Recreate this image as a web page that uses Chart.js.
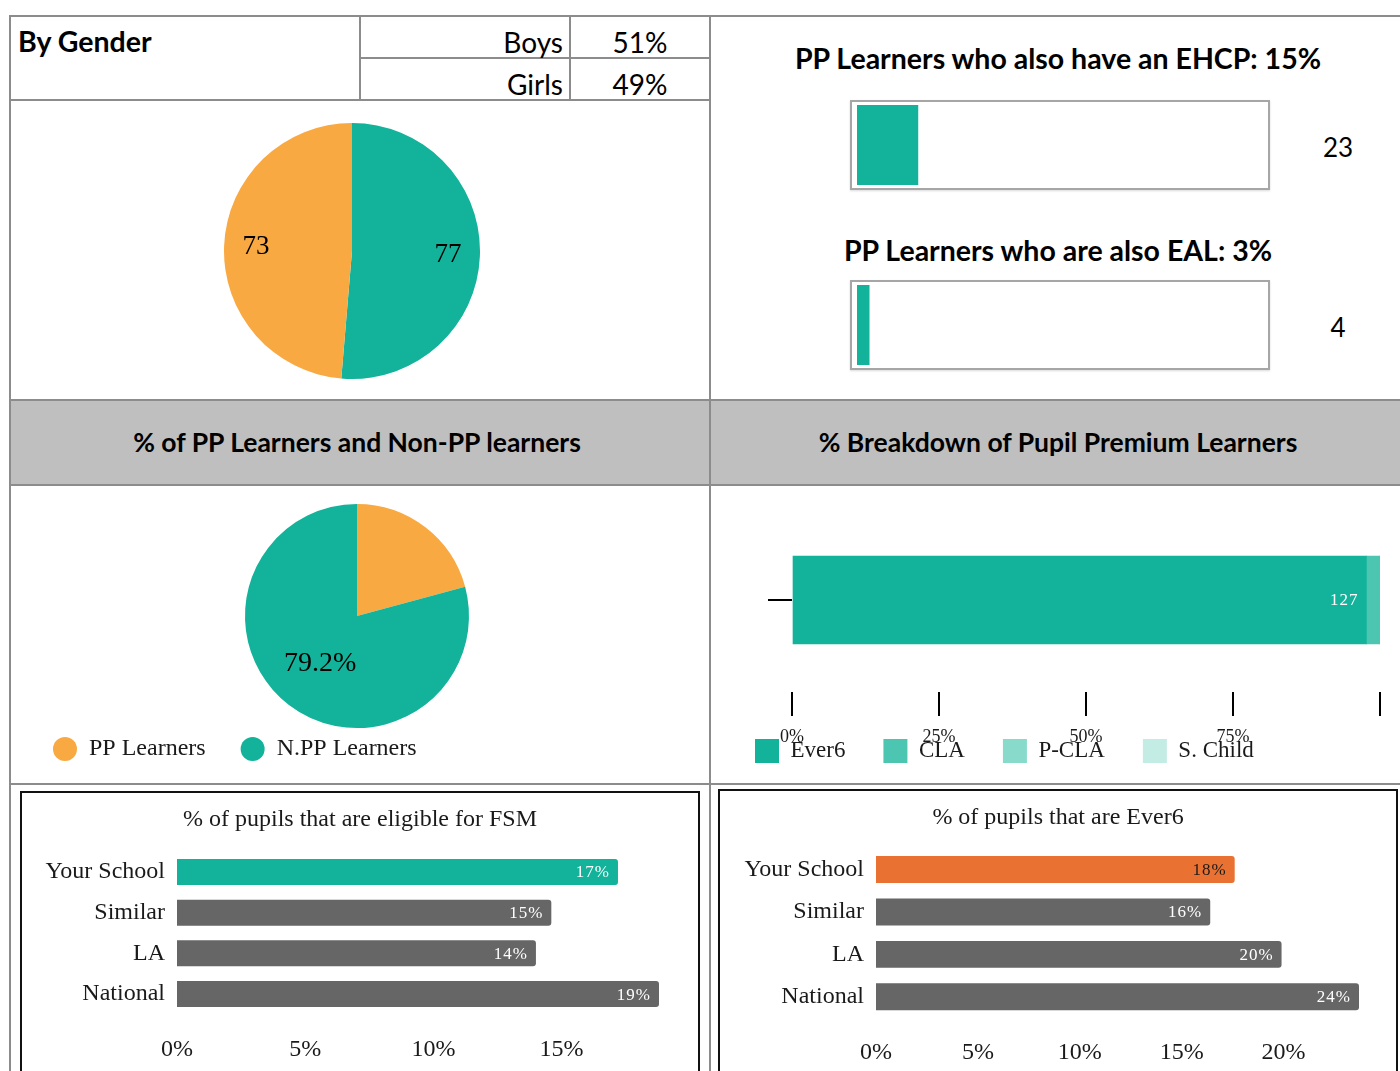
<!DOCTYPE html>
<html>
<head>
<meta charset="utf-8">
<script src="https://cdn.jsdelivr.net/npm/chart.js@4.4.0/dist/chart.umd.min.js"></script>
<style>
  body { margin: 0; width: 1400px; height: 1071px; overflow: hidden; background: #fff; position: relative; font-family: Lato, sans-serif; color: #000; }
  .ln { position: absolute; background: #8c8c8c; }
  .t { position: absolute; white-space: nowrap; transform: translate(-50%, -50%); }
  .r { position: absolute; white-space: nowrap; transform: translate(-100%, -50%); }
  .b { font-weight: bold; font-size: 28.5px; }
  .h { font-weight: bold; font-size: 26.5px; }
  .n { font-size: 28px; }
  .v { font-size: 26px; }
  canvas { position: absolute; }
  .box { position: absolute; border: 2px solid #111; box-sizing: border-box; }
  .meter { position: absolute; border: 2px solid #a6a6a6; box-sizing: border-box; box-shadow: 0 1px 2px rgba(0,0,0,.15); }
  .band { position: absolute; left: 9px; top: 399px; width: 1391px; height: 87px; background: #bfbfbf; border-top: 2px solid #8c8c8c; border-bottom: 2px solid #8c8c8c; box-sizing: border-box; }
</style>
</head>
<body>
<div class="band"></div>
<div class="ln" style="left:9px;top:15px;width:1391px;height:2px"></div>
<div class="ln" style="left:9px;top:15px;width:2px;height:1056px"></div>
<div class="ln" style="left:709px;top:15px;width:2px;height:1056px"></div>
<div class="ln" style="left:9px;top:99px;width:702px;height:2px"></div>
<div class="ln" style="left:359px;top:15px;width:2px;height:85px"></div>
<div class="ln" style="left:569px;top:15px;width:2px;height:85px"></div>
<div class="ln" style="left:359px;top:57px;width:352px;height:2px"></div>
<div class="ln" style="left:9px;top:783px;width:1391px;height:2px"></div>

<div class="b" style="position:absolute;left:18px;top:24px">By Gender</div>
<div id="g0" class="r n" style="left:563px;top:42px"></div>
<div id="p0" class="t n" style="left:640px;top:42px"></div>
<div id="g1" class="r n" style="left:563px;top:84px"></div>
<div id="p1" class="t n" style="left:640px;top:84px"></div>

<div id="f0" class="t b" style="left:1058px;top:58px"></div>
<div id="f1" class="t b" style="left:1058px;top:250px"></div>
<div id="c0" class="t v" style="left:1338px;top:147px"></div>
<div id="c1" class="t v" style="left:1338px;top:327px"></div>
<div class="meter" style="left:850px;top:100px;width:420px;height:90px"></div>
<div class="meter" style="left:850px;top:280px;width:420px;height:90px"></div>
<canvas id="meter0" width="406" height="80" style="left:857px;top:105px"></canvas>
<canvas id="meter1" width="406" height="80" style="left:857px;top:285px"></canvas>

<div class="t h" style="left:357px;top:442px">% of PP Learners and Non-PP learners</div>
<div class="t h" style="left:1058px;top:442px">% Breakdown of Pupil Premium Learners</div>

<canvas id="gender" width="256" height="256" style="left:224px;top:123px"></canvas>
<canvas id="pp" width="698" height="298" style="left:10px;top:486px"></canvas>
<canvas id="breakdown" width="688" height="298" style="left:712px;top:486px"></canvas>

<div class="box" style="left:20px;top:791px;width:680px;height:300px"></div>
<div class="box" style="left:718px;top:789px;width:680px;height:300px"></div>
<canvas id="fsm" width="676" height="278" style="left:22px;top:793px"></canvas>
<canvas id="ever6" width="676" height="280" style="left:720px;top:791px"></canvas>

<script>
const genderLabels = ['Boys', 'Girls'];
const genderCounts = [77, 73];

const flagTitles = ['PP Learners who also have an EHCP', 'PP Learners who are also EAL'];
const flagPercents = [15, 3];
const flagCounts = [23, 4];

const ppLabels = ['PP Learners', 'N.PP Learners'];
const ppCounts = [150, 571];

const breakdownLabels = ['Ever6', 'CLA', 'P-CLA', 'S. Child'];
const breakdownCounts = [127, 3, 0, 0];

const compareLabels = ['Your School', 'Similar', 'LA', 'National'];
const fsmValues = [17.2, 14.6, 14.0, 18.8];
const ever6Values = [17.6, 16.4, 19.9, 23.7];

const teal = '#12B39A';
const orange = '#F9A942';
const grey = '#666666';

Chart.defaults.font.family = "'Liberation Serif', serif";
Chart.defaults.color = '#1a1a1a';
Chart.defaults.animation = false;
Chart.defaults.responsive = false;
Chart.defaults.plugins.tooltip.enabled = false;

// table + text cells
const genderTotal = genderCounts.reduce((a, b) => a + b, 0);
genderLabels.forEach((g, i) => {
  document.getElementById('g' + i).textContent = g;
  document.getElementById('p' + i).textContent = Math.round(genderCounts[i] / genderTotal * 100) + '%';
});
flagTitles.forEach((t, i) => {
  document.getElementById('f' + i).textContent = t + ': ' + flagPercents[i] + '%';
  document.getElementById('c' + i).textContent = flagCounts[i];
});

const sliceLabels = (cfg) => ({
  id: 'sliceLabels',
  afterDatasetsDraw(chart) {
    const ctx = chart.ctx;
    const data = chart.data.datasets[0].data;
    const total = data.reduce((a, b) => a + b, 0);
    ctx.save();
    ctx.font = cfg.font;
    ctx.fillStyle = '#000';
    ctx.textAlign = 'center';
    ctx.textBaseline = 'middle';
    chart.getDatasetMeta(0).data.forEach((arc, i) => {
      const text = cfg.text(data[i], total, i);
      if (!text) return;
      const mid = (arc.startAngle + arc.endAngle) / 2;
      const r = arc.outerRadius * cfg.at;
      ctx.fillText(text, arc.x + Math.cos(mid) * r, arc.y + Math.sin(mid) * r);
    });
    ctx.restore();
  }
});

const barLabels = (cfg) => ({
  id: 'barLabels',
  afterDatasetsDraw(chart) {
    const ctx = chart.ctx;
    ctx.save();
    ctx.font = cfg.font;
    ctx.letterSpacing = '1px';
    ctx.textAlign = 'right';
    ctx.textBaseline = 'middle';
    chart.data.datasets.forEach((ds, d) => {
      chart.getDatasetMeta(d).data.forEach((bar, i) => {
        if (Math.abs(bar.x - bar.base) < 30) return;
        ctx.fillStyle = cfg.color(d, i);
        ctx.fillText(cfg.text(ds.data[i], d, i), bar.x - cfg.pad, bar.y + 1);
      });
    });
    ctx.restore();
  }
});

// x tick labels that hang below the tick marks, over the legend
const hangingTicks = (cfg) => ({
  id: 'hangingTicks',
  afterDraw(chart) {
    const s = chart.scales.x;
    const ctx = chart.ctx;
    ctx.save();
    ctx.font = cfg.font;
    ctx.fillStyle = '#1a1a1a';
    ctx.textAlign = 'center';
    ctx.textBaseline = 'top';
    s.ticks.forEach((t) => {
      const text = cfg.text(t.value);
      if (text) ctx.fillText(text, s.getPixelForValue(t.value), s.top + cfg.offset);
    });
    ctx.restore();
  }
});

// title centred on the whole canvas, not on the padded layout box
const canvasTitle = (cfg) => ({
  id: 'canvasTitle',
  afterDraw(chart) {
    const ctx = chart.ctx;
    ctx.save();
    ctx.font = cfg.font;
    ctx.fillStyle = '#1a1a1a';
    ctx.textAlign = 'center';
    ctx.textBaseline = 'middle';
    ctx.fillText(cfg.text, chart.width / 2, cfg.y);
    ctx.restore();
  }
});

new Chart(document.getElementById('gender'), {
  type: 'pie',
  data: {
    labels: genderLabels,
    datasets: [{ data: genderCounts, backgroundColor: [teal, orange], borderWidth: 0 }]
  },
  options: { plugins: { legend: { display: false } } },
  plugins: [sliceLabels({ font: "27px 'Liberation Serif'", at: 0.75, text: (v) => String(v) })]
});

new Chart(document.getElementById('pp'), {
  type: 'pie',
  data: {
    labels: ppLabels,
    datasets: [{ data: ppCounts, backgroundColor: [orange, teal], borderWidth: 0, radius: 112 }]
  },
  options: {
    layout: { padding: { left: 8, right: 12, top: 44, bottom: 13 } },
    plugins: {
      legend: {
        position: 'bottom', align: 'start',
        labels: { usePointStyle: true, pointStyle: 'circle', pointStyleWidth: 24, boxHeight: 17, padding: 35, font: { size: 24 }, color: '#1a1a1a' }
      }
    }
  },
  plugins: [sliceLabels({ font: "28px 'Liberation Serif'", at: 0.54, text: (v, total, i) => i === 1 ? (v / total * 100).toFixed(1) + '%' : '' })]
});

const breakdownTotal = breakdownCounts.reduce((a, b) => a + b, 0);
const breakdownColors = [teal, '#4CC6B1', '#88DACB', '#C3ECE5'];
new Chart(document.getElementById('breakdown'), {
  type: 'bar',
  data: {
    labels: [''],
    datasets: breakdownLabels.map((lab, i) => ({
      label: lab,
      data: [breakdownCounts[i] / breakdownTotal * 100],
      backgroundColor: breakdownColors[i],
      barThickness: 88
    }))
  },
  options: {
    indexAxis: 'y',
    layout: { padding: { left: 5, right: 20, top: 22, bottom: 11 } },
    plugins: {
      legend: {
        position: 'bottom', align: 'start',
        labels: { boxWidth: 24, boxHeight: 24, padding: 38, font: { size: 23 }, color: '#1a1a1a' }
      }
    },
    scales: {
      x: {
        stacked: true, min: 0, max: 100,
        border: { display: false },
        grid: { drawOnChartArea: false, tickLength: 24, color: '#000', lineWidth: 2 },
        ticks: { stepSize: 25, display: false },
        afterFit: (s) => { s.height = 9; }
      },
      y: {
        stacked: true,
        border: { display: false },
        grid: { drawOnChartArea: false, offset: false, tickLength: 24, color: '#000', lineWidth: 2 },
        ticks: { display: false },
        afterFit: (s) => { s.width = 75; }
      }
    }
  },
  plugins: [
    barLabels({ font: "17px 'Liberation Serif'", pad: 8, color: () => '#fff', text: (v, d) => String(breakdownCounts[d]) }),
    hangingTicks({ font: "18px 'Liberation Serif'", offset: 36, text: (v) => v < 100 ? v + '%' : '' })
  ]
});

function meterChart(id, pct) {
  new Chart(document.getElementById(id), {
    type: 'bar',
    data: { labels: [''], datasets: [{ data: [pct], backgroundColor: teal, barPercentage: 1, categoryPercentage: 1 }] },
    options: {
      indexAxis: 'y',
      plugins: { legend: { display: false } },
      scales: { x: { display: false, min: 0, max: 100 }, y: { display: false } }
    }
  });
}
meterChart('meter0', flagPercents[0]);
meterChart('meter1', flagPercents[1]);

function compareChart(id, title, values, firstColor, firstText, lay) {
  new Chart(document.getElementById(id), {
    type: 'bar',
    data: {
      labels: compareLabels,
      datasets: [{
        data: values,
        backgroundColor: values.map((v, i) => i === 0 ? firstColor : grey),
        borderRadius: 3, borderSkipped: 'start',
        barPercentage: lay.bar, categoryPercentage: 1
      }]
    },
    options: {
      indexAxis: 'y',
      layout: { padding: { right: lay.right, top: lay.top } },
      plugins: { legend: { display: false } },
      scales: {
        x: {
          min: 0, max: Math.max(...values),
          grid: { display: false, drawTicks: false }, border: { display: false },
          ticks: { stepSize: 5, includeBounds: false, padding: lay.tickPad, font: { size: 24 }, callback: (v) => v + '%' },
          afterFit: (s) => { s.height = lay.xHeight; }
        },
        y: {
          grid: { display: false, drawTicks: false }, border: { display: false },
          ticks: { font: { size: 24 }, padding: 12 },
          afterFit: (s) => { s.width = lay.yWidth; }
        }
      }
    },
    plugins: [
      barLabels({ font: "17px 'Liberation Serif'", pad: 8, color: (d, i) => i === 0 ? firstText : '#fff', text: (v) => Math.round(v) + '%' }),
      canvasTitle({ text: title, font: "24px 'Liberation Serif'", y: 27 })
    ]
  });
}

compareChart('fsm', '% of pupils that are eligible for FSM', fsmValues, teal, '#fff',
  { right: 39, top: 58.6, tickPad: 21, xHeight: 56.6, yWidth: 155, bar: 0.64 });
compareChart('ever6', '% of pupils that are Ever6', ever6Values, '#E97132', '#1a1a1a',
  { right: 37, top: 57.3, tickPad: 20, xHeight: 53, yWidth: 156, bar: 0.635 });
</script>
</body>
</html>
